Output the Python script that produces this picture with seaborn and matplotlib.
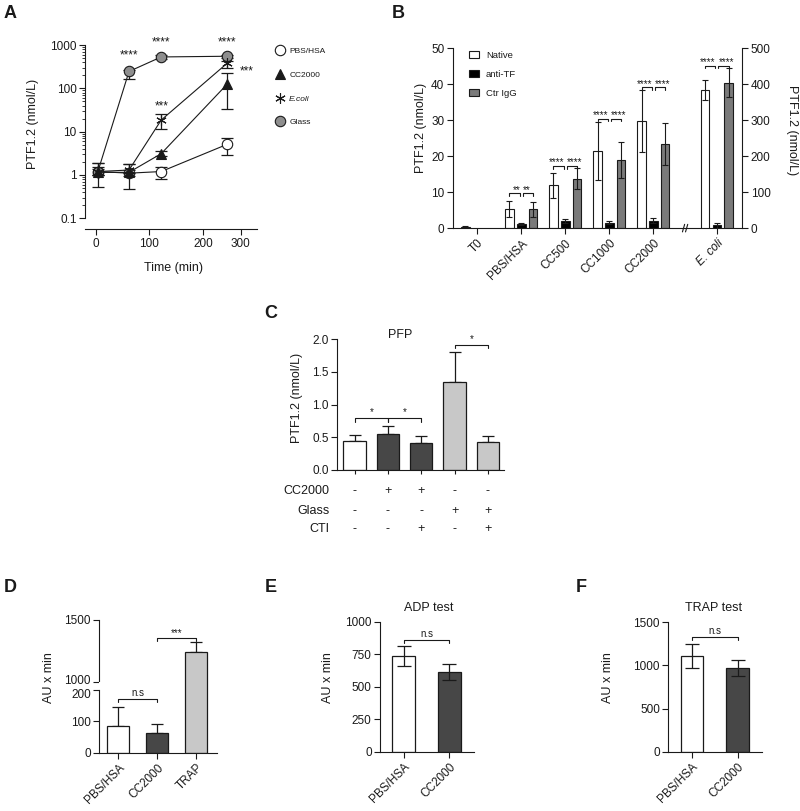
import numpy as np
import pandas as pd
import seaborn as sns
import matplotlib.pyplot as plt
from matplotlib.lines import Line2D
from matplotlib.patches import Patch
from matplotlib.transforms import blended_transform_factory, ScaledTranslation

# ---------------- data ----------------
# A: PTF1.2 over time (nmol/L), mean with lower / upper error ends
times = [4, 62, 122, 245]
pbs_mean = [1.2, 1.1, 1.2, 5.1]
pbs_lo = [1.0, 0.95, 0.8, 2.9]
pbs_hi = [1.4, 1.3, 1.5, 7.3]
cc_mean = [1.15, 1.15, 3.1, 125]
cc_lo = [0.54, 0.47, 2.7, 34]
cc_hi = [1.85, 1.8, 3.5, 230]
ecoli_mean = [1.2, 1.3, 18.5, 380]
ecoli_lo = [1.0, 1.1, 11.5, 300]
ecoli_hi = [1.5, 1.8, 25, 420]
glass_mean = [1.2, 245, 530, 550]
glass_lo = [1.0, 165, 480, 500]
glass_hi = [1.9, 270, 580, 600]
stars_a = [(62, 560, '****'), (122, 1150, '****'), (245, 1150, '****'),
           (122, 38, '***'), (282, 245, '***')]

# B: PTF1.2 per condition (E. coli on right axis, 0-500)
groups_b = ['T0', 'PBS/HSA', 'CC500', 'CC1000', 'CC2000', 'E. coli']
native = [0.4, 5.4, 11.9, 21.5, 29.8, 384]
native_err = [0.15, 2.2, 3.5, 8.1, 8.5, 28]
anti_tf = [np.nan, 1.1, 2.0, 1.6, 2.1, 9]
anti_tf_err = [np.nan, 0.3, 0.5, 0.4, 0.7, 7]
ctr_igg = [np.nan, 5.3, 13.8, 18.9, 23.4, 405]
ctr_igg_err = [np.nan, 2.1, 3.0, 5.0, 5.8, 40]
bracket_b = [9.8, 17.4, 30.5, 39.2, 452]
stars_b = ['**', '****', '****', '****', '****']

# C: PFP
cond_c = ['PBS', 'CC2000', 'CC2000+CTI', 'Glass', 'Glass+CTI']
pfp_mean = [0.44, 0.55, 0.42, 1.35, 0.43]
pfp_err = [0.10, 0.12, 0.10, 0.46, 0.09]
cc2000_row = ['-', '+', '+', '-', '-']
glass_row = ['-', '-', '-', '+', '+']
cti_row = ['-', '-', '+', '-', '+']

# D, E, F: AU x min
cond_def = ['PBS/HSA', 'CC2000', 'TRAP']
auc_d = [84, 63, 1240]
auc_d_err = [62, 29, 80]
adp_mean = [734, 615]
adp_err = [77, 62]
trap_mean = [1109, 973]
trap_err = [141, 91]

# ---------------- style ----------------
sns.set_theme(style='ticks')
plt.rcParams['font.family'] = ['Liberation Sans', 'DejaVu Sans']
plt.rcParams.update({
    'axes.linewidth': 0.8, 'axes.edgecolor': 'k', 'axes.labelcolor': 'k',
    'xtick.color': 'k', 'ytick.color': 'k', 'text.color': 'k',
    'xtick.major.width': 0.8, 'ytick.major.width': 0.8,
    'xtick.minor.width': 0.6, 'ytick.minor.width': 0.6,
    'xtick.major.size': 4, 'ytick.major.size': 4, 'ytick.minor.size': 2,
    'xtick.labelsize': 8.5, 'ytick.labelsize': 8.5, 'axes.labelsize': 9,
    'xtick.major.pad': 2.5, 'ytick.major.pad': 2,
})

W, H = 800, 811
fig = plt.figure(figsize=(8, 8.11), dpi=100)


def px_axes(x0, y0, x1, y1):
    return fig.add_axes([x0 / W, 1 - y1 / H, (x1 - x0) / W, (y1 - y0) / H])


def ylabel_at(ax, text, xc, yc, rot=90):
    ax.set_ylabel(text, rotation=rot, va='center', ha='center', fontsize=9)
    ax.yaxis.set_label_coords(xc / W, 1 - yc / H, transform=fig.transFigure)


def bracket(ax, x0, x1, y, leg, text=None, fs=7, gap=0.0):
    ax.plot([x0, x0, x1, x1], [y - leg, y, y, y - leg], color='k', lw=0.8,
            clip_on=False)
    if text:
        ax.text((x0 + x1) / 2, y + gap, text, ha='center', va='bottom', fontsize=fs)


def letter(x, y, s):
    fig.text(x / W, 1 - y / H, s, fontsize=13, fontweight='bold',
             ha='center', va='center')


# ---------------- A ----------------
axA = px_axes(85, 45, 256.7, 218.3)
series_a = [
    ('PBS/HSA', pbs_mean, pbs_lo, pbs_hi, dict(marker='o', mfc='white', ms=7.5), 2),
    ('Glass', glass_mean, glass_lo, glass_hi, dict(marker='o', mfc='#8e8e8e', ms=7.5), 3),
    ('E.coli', ecoli_mean, ecoli_lo, ecoli_hi, dict(marker=(6, 2, 0), mfc='k', ms=7.5), 4),
    ('CC2000', cc_mean, cc_lo, cc_hi, dict(marker='^', mfc='k', ms=7.5), 5),
]
for name, mean, lo, hi, st, z in series_a:
    yerr = [np.subtract(mean, lo), np.subtract(hi, mean)]
    axA.errorbar(times, mean, yerr=yerr, fmt='none', ecolor='k', elinewidth=0.9,
                 capsize=4, capthick=0.9, zorder=z)
    sns.lineplot(x=times, y=mean, ax=axA, color='k', lw=0.8, mec='k', mew=0.8,
                 zorder=z + 0.5, **st)
axA.set_yscale('log')
axA.set_ylim(0.1, 1000)
axA.set_xlim(-20, 300)
axA.set_yticks([0.1, 1, 10, 100, 1000])
axA.set_yticklabels(['0.1', '1', '10', '100', '1000'])
axA.set_xticks([0, 100, 200, 270])
axA.set_xticklabels(['0', '100', '200', '300'])
axA.spines[['top', 'right']].set_visible(False)
axA.spines['bottom'].set_position(('outward', 7.7))
for x, y, s in stars_a:
    axA.text(x, y, s, ha='center', va='center', fontsize=8.5, clip_on=False)
ylabel_at(axA, 'PTF1.2 (nmol/L)', 33, 124)
axA.set_xlabel('Time (min)', va='center', fontsize=9)
axA.xaxis.set_label_coords(173.7 / W, 1 - 268 / H, transform=fig.transFigure)

handles_a = [
    Line2D([], [], ls='none', marker='o', mfc='white', mec='k', ms=7.5, mew=0.8),
    Line2D([], [], ls='none', marker='^', mfc='k', mec='k', ms=7.5, mew=0.8),
    Line2D([], [], ls='none', marker=(6, 2, 0), mfc='k', mec='k', ms=7.5, mew=0.8),
    Line2D([], [], ls='none', marker='o', mfc='#8e8e8e', mec='k', ms=7.5, mew=0.8),
]
legA = axA.legend(handles_a, ['PBS/HSA', 'CC2000', 'E.coli', 'Glass'],
                  loc='upper left', bbox_to_anchor=(275 / W, 1 - 47.5 / H),
                  bbox_transform=fig.transFigure, frameon=False, fontsize=6,
                  labelspacing=1.9, handletextpad=0.5, borderpad=0,
                  borderaxespad=0, handlelength=1.2)
legA.get_texts()[2].set_style('italic')

# ---------------- B ----------------
axB = px_axes(452.7, 48.3, 742.3, 228.3)
axB2 = axB.twinx()
xpos_b = [0, 1, 2, 3, 4, 5.44]
bw, off = 0.19, 0.27
bar_sets = [(native, native_err, 'white', -off), (anti_tf, anti_tf_err, 'black', 0),
            (ctr_igg, ctr_igg_err, '#7a7a7a', off)]
for i, xc in enumerate(xpos_b):
    ax = axB2 if i == 5 else axB
    for vals, errs, col, dx in bar_sets:
        if np.isnan(vals[i]):
            continue
        ax.bar(xc + dx, vals[i], width=bw, color=col, edgecolor='k', lw=0.8, zorder=2)
        ax.errorbar(xc + dx, vals[i], yerr=errs[i], fmt='none', ecolor='k',
                    elinewidth=0.8, capsize=2.5, capthick=0.8, zorder=3)
for i, (yb, s) in enumerate(zip(bracket_b, stars_b)):
    xc = xpos_b[i + 1]
    ax = axB2 if i == 4 else axB
    leg = 8 if i == 4 else 0.8
    bracket(ax, xc - off, xc - 0.035, yb, leg)
    bracket(ax, xc + 0.035, xc + off, yb, leg)
    ax.annotate(s, (xc, yb), xytext=(-0.8, -1.2), textcoords='offset points',
                ha='right', va='bottom', fontsize=7)
    ax.annotate(s, (xc, yb), xytext=(1.2, -1.2), textcoords='offset points',
                ha='left', va='bottom', fontsize=7)
axB.set_xlim(-0.56, 6.02)
axB2.set_xlim(-0.56, 6.02)
axB.set_ylim(0, 50)
axB2.set_ylim(0, 500)
axB.set_yticks(range(0, 51, 10))
axB2.set_yticks(range(0, 501, 100))
axB.set_xticks(xpos_b)
axB.set_xticklabels(groups_b, rotation=45, ha='right', rotation_mode='anchor')
axB.get_xticklabels()[5].set_style('italic')
axB.spines[['top', 'right']].set_visible(False)
axB2.spines[['top', 'left', 'bottom']].set_visible(False)
# axis break
for dx in (0, 0.07):
    axB.plot([4.66 + dx, 4.71 + dx], [-1.0, 1.1], color='k', lw=0.8, clip_on=False, zorder=5)
ylabel_at(axB, 'PTF1.2 (nmol/L)', 420.7, 128)
ylabel_at(axB2, 'PTF1.2 (nmol/L)', 791.7, 130, rot=270)
handles_b = [Patch(facecolor=c, edgecolor='k', lw=0.8) for c in ('white', 'black', '#7a7a7a')]
axB.legend(handles_b, ['Native', 'anti-TF', 'Ctr IgG'], loc='upper left',
           bbox_to_anchor=(469 / W, 1 - 51 / H), bbox_transform=fig.transFigure,
           frameon=False, fontsize=6.8, labelspacing=1.05, handlelength=1.1,
           handleheight=0.75, handletextpad=0.7, borderpad=0, borderaxespad=0)

# ---------------- C ----------------
axC = px_axes(337.3, 339.3, 504, 470)
colors_c = ['white', '#474747', '#474747', '#c8c8c8', '#c8c8c8']
sns.barplot(x=cond_c, y=pfp_mean, hue=cond_c, order=cond_c, hue_order=cond_c,
            palette=colors_c, saturation=1, width=0.67, edgecolor='k', linewidth=0.9,
            legend=False, ax=axC, zorder=2)
axC.errorbar(range(5), pfp_mean, yerr=[np.zeros(5), pfp_err], fmt='none', ecolor='k',
             elinewidth=0.9, capsize=4.5, capthick=0.9, zorder=1)
axC.set_xlim(-0.52, 4.48)
axC.set_ylim(0, 2)
axC.set_yticks([0, 0.5, 1.0, 1.5, 2.0])
axC.set_yticklabels(['0.0', '0.5', '1.0', '1.5', '2.0'])
axC.set_xticks(range(5))
axC.set_xticklabels([])
axC.tick_params(axis='x', length=3)
axC.set_xlabel('')
axC.spines[['top', 'right']].set_visible(False)
bracket(axC, 0, 1, 0.79, 0.05, '*', fs=7, gap=0.02)
bracket(axC, 1, 2, 0.79, 0.05, '*', fs=7, gap=0.02)
bracket(axC, 3, 4, 1.91, 0.05, '*', fs=7, gap=0.02)
ylabel_at(axC, 'PTF1.2 (nmol/L)', 296.7, 398)
fig.text(400 / W, 1 - 335 / H, 'PFP', ha='center', va='center', fontsize=9)
tr = blended_transform_factory(axC.transData, fig.transFigure)
for lab, row, yp in [('CC2000', cc2000_row, 491), ('Glass', glass_row, 510.7),
                     ('CTI', cti_row, 529.3)]:
    fig.text(329.3 / W, 1 - yp / H, lab, ha='right', va='center', fontsize=9)
    for j, sym in enumerate(row):
        axC.text(j, 1 - yp / H, sym, transform=tr, ha='center', va='center', fontsize=9)

# ---------------- D ----------------
colors_def = ['white', '#474747', '#c8c8c8']
axDu = px_axes(99.3, 620, 217.3, 681.7)
axDl = px_axes(99.3, 681.7, 217.3, 752.7)
for ax in (axDu, axDl):
    sns.barplot(x=cond_def, y=auc_d, hue=cond_def, order=cond_def, hue_order=cond_def,
                palette=colors_def, saturation=1, width=0.56, edgecolor='k',
                linewidth=0.9, legend=False, ax=ax, zorder=2)
    ax.errorbar(range(3), auc_d, yerr=[np.zeros(3), auc_d_err], fmt='none', ecolor='k',
                elinewidth=0.9, capsize=4.5, capthick=0.9, zorder=1)
    ax.set_xlim(-0.49, 2.54)
    ax.spines[['top', 'right']].set_visible(False)
    ax.set_xlabel('')
    ax.set_ylabel('')
axDu.set_ylim(1000, 1500)
axDu.set_yticks([1000, 1500])
axDu.spines['bottom'].set_visible(False)
axDu.tick_params(axis='x', bottom=False, labelbottom=False)
axDl.set_ylim(0, 226.5)
axDl.spines['left'].set_bounds(0, 200)
axDl.set_yticks([0, 100, 200])
axDl.set_xticks(range(3))
axDl.set_xticklabels(cond_def, rotation=45, ha='right', rotation_mode='anchor')
# nudge the two labels at the axis break apart a little
up = ScaledTranslation(0, 1.5 / 72, fig.dpi_scale_trans)
down = ScaledTranslation(0, -2.5 / 72, fig.dpi_scale_trans)
lab_1000 = axDu.get_yticklabels()[0]
lab_1000.set_transform(lab_1000.get_transform() + up)
lab_200 = axDl.get_yticklabels()[2]
lab_200.set_transform(lab_200.get_transform() + down)
bracket(axDl, 0, 1, 171, 10, 'n.s', fs=7, gap=3)
bracket(axDu, 1, 2, 1355, 24, '***', fs=7, gap=0)
ylabel_at(axDl, 'AU x min', 49, 678)

# ---------------- E / F ----------------
for box, mean, err, ymax, yt, title, tpos, lab_x, bh in [
        ((380, 621.7, 474, 751.7), adp_mean, adp_err, 1000, [0, 250, 500, 750, 1000],
         'ADP test', (428.3, 607.7), 327.7, 860),
        ((668.3, 622.3, 762.3, 751.7), trap_mean, trap_err, 1500, [0, 500, 1000, 1500],
         'TRAP test', (713.3, 607.7), 608, 1326)]:
    ax = px_axes(*box)
    sns.barplot(x=cond_def[:2], y=mean, hue=cond_def[:2], order=cond_def[:2],
                hue_order=cond_def[:2], palette=colors_def[:2], saturation=1, width=0.5,
                edgecolor='k', linewidth=0.9, legend=False, ax=ax, zorder=2)
    ax.errorbar(range(2), mean, yerr=err, fmt='none', ecolor='k', elinewidth=0.9,
                capsize=5, capthick=0.9, zorder=3)
    ax.set_xlim(-0.52, 1.54)
    ax.set_ylim(0, ymax)
    ax.set_yticks(yt)
    ax.set_xticks(range(2))
    ax.set_xticklabels(cond_def[:2], rotation=45, ha='right', rotation_mode='anchor')
    ax.set_xlabel('')
    ax.spines[['top', 'right']].set_visible(False)
    bracket(ax, 0, 1, bh, ymax * 0.023, 'n.s', fs=7, gap=ymax * 0.01)
    ylabel_at(ax, 'AU x min', lab_x, 678)
    fig.text(tpos[0] / W, 1 - tpos[1] / H, title, ha='center', va='center', fontsize=9)

letter(10, 13, 'A')
letter(398, 13, 'B')
letter(271, 314, 'C')
letter(10, 588, 'D')
letter(271, 588, 'E')
letter(581, 588, 'F')

fig.savefig('out.png', dpi=100)
